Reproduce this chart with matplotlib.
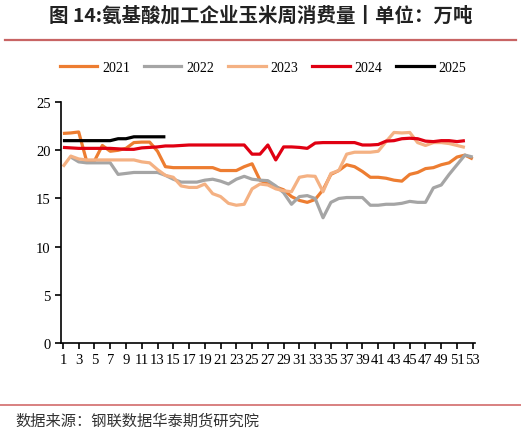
import numpy as np
import matplotlib
matplotlib.use("Agg")
import matplotlib.pyplot as plt
from matplotlib.lines import Line2D

plt.rcParams['font.family'] = ['Noto Sans CJK SC', 'DejaVu Sans']

# --- data (weekly corn consumption, 10k tons) ---
weeks = np.arange(1, 54)
y2021 = [21.75, 21.8, 21.9, 18.9, 18.9, 20.5, 19.9, 20.0, 20.2, 20.8,
         20.85, 20.85, 19.9, 18.3, 18.2, 18.2, 18.2, 18.2, 18.2, 18.2,
         17.9, 17.9, 17.9, 18.3, 18.6, 16.9, 16.5, 16.2, 15.9, 15.2,
         14.8, 14.6, 14.9, 15.9, 17.5, 17.9, 18.5, 18.3, 17.8, 17.2,
         17.2, 17.1, 16.9, 16.8, 17.5, 17.7, 18.1, 18.2, 18.5, 18.7,
         19.3, 19.5, 19.1]
y2022 = [np.nan, 19.3, 18.8, 18.7, 18.7, 18.7, 18.7, 17.5, 17.6, 17.7,
         17.7, 17.7, 17.7, 17.4, 17.0, 16.7, 16.7, 16.7, 16.9, 17.0,
         16.8, 16.5, 17.0, 17.3, 17.0, 16.9, 16.85, 16.3, 15.6, 14.4,
         15.2, 15.3, 15.0, 13.0, 14.6, 15.0, 15.1, 15.1, 15.1, 14.3,
         14.3, 14.4, 14.4, 14.5, 14.7, 14.6, 14.6, 16.1, 16.4, 17.5,
         18.5, 19.5, 19.3]
y2023 = [18.3, 19.4, 19.1, 19.0, 19.0, 19.0, 19.0, 19.0, 19.0, 19.0,
         18.8, 18.7, 18.0, 17.4, 17.2, 16.3, 16.15, 16.15, 16.5, 15.5,
         15.2, 14.5, 14.3, 14.4, 16.0, 16.5, 16.4, 16.0, 15.8, 15.7,
         17.2, 17.35, 17.3, 15.7, 17.6, 17.9, 19.6, 19.8, 19.8, 19.8,
         19.9, 20.9, 21.85, 21.8, 21.85, 20.8, 20.5, 20.8, 20.8, 20.7,
         20.5, 20.3, np.nan]
y2024 = [20.3, 20.25, 20.2, 20.2, 20.2, 20.2, 20.2, 20.15, 20.1, 20.1,
         20.25, 20.3, 20.35, 20.45, 20.45, 20.5, 20.55, 20.55, 20.55, 20.55,
         20.55, 20.55, 20.55, 20.55, 19.6, 19.6, 20.55, 19.0, 20.35, 20.35,
         20.3, 20.2, 20.75, 20.8, 20.8, 20.8, 20.8, 20.8, 20.55, 20.55,
         20.6, 20.95, 21.0, 21.2, 21.25, 21.2, 20.95, 20.9, 21.0, 21.0,
         20.9, 21.0, np.nan]
y2025 = [21.0, 21.0, 21.0, 21.0, 21.0, 21.0, 21.0, 21.2, 21.2, 21.4,
         21.4, 21.4, 21.4, 21.4]

series = [
    ("2021", y2021, "#ED7D31"),
    ("2022", y2022, "#A5A5A5"),
    ("2023", y2023, "#F4B183"),
    ("2024", y2024, "#E00012"),
    ("2025", y2025, "#000000"),
]

fig = plt.figure(figsize=(5.21, 4.35), dpi=100)
ax = fig.add_axes([0.117, 0.209, 0.795, 0.554])

for name, vals, color in series:
    ax.plot(weeks[:len(vals)], vals, color=color, lw=2.3, label=name,
            solid_joinstyle='round', solid_capstyle='butt')

ax.set_ylim(0, 25)
ax.set_xlim(0.75, 53.3)
ax.set_yticks(range(0, 26, 5))
ax.set_xticks(range(1, 54, 2))
for s in ['top', 'right']:
    ax.spines[s].set_visible(False)
ax.spines['left'].set_linewidth(1.2)
ax.spines['bottom'].set_linewidth(1.2)
ax.tick_params(axis='both', direction='out', length=4, width=1.2, colors='black')
ax.tick_params(axis='x', pad=3)
for lab in ax.get_xticklabels():
    lab.set_family('Liberation Serif')
    lab.set_fontsize(10.5)
for lab in ax.get_yticklabels():
    lab.set_family('Liberation Serif')
    lab.set_fontsize(10.5)

# legend above the plot
handles = [Line2D([0], [0], color=c, lw=2.3) for _, _, c in series]
leg = fig.legend(handles, [n for n, _, _ in series], loc='center',
                 bbox_to_anchor=(0.505, 0.843), ncol=5, frameon=False,
                 handlelength=2.7, handletextpad=0.35, columnspacing=1.0,
                 prop={'family': 'Liberation Serif', 'size': 10})

# title and decorative rules
fig.text(0.5, 0.963, "图 14:氨基酸加工企业玉米周消费量丨单位：万吨",
         ha='center', va='center', fontsize=14, fontweight='bold', color='#222222')
fig.add_artist(Line2D([0.01, 0.99], [0.906, 0.906], color='#C86464', lw=1.6))
fig.add_artist(Line2D([0.0, 1.0], [0.067, 0.067], color='#D88080', lw=1.4))
fig.text(0.03, 0.033, "数据来源：钢联数据华泰期货研究院", ha='left', va='center',
         fontsize=11, color='#333333')

fig.savefig("out.png", dpi=100)
